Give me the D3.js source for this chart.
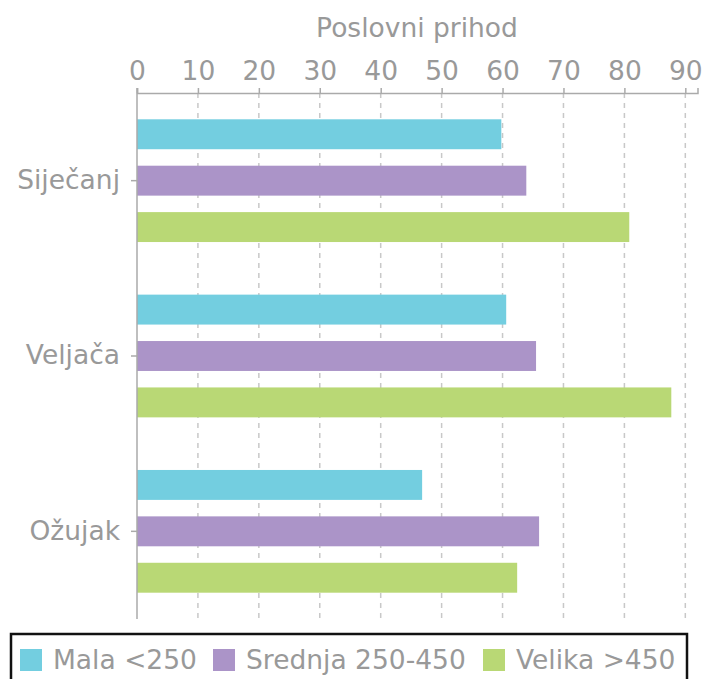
<!DOCTYPE html>
<html>
<head>
<meta charset="utf-8">
<script src="https://cdn.jsdelivr.net/npm/d3@7"></script>
<style>
    body { margin: 0; background: #fff; }
    text { font-family: "DejaVu Sans", sans-serif; fill: #999; }
</style>
</head>
<body>
<div id="chart"></div>
<script>
(function() {
    // data
    var months = ["Siječanj", "Veljača", "Ožujak"];
    var seriesNames = ["Mala <250", "Srednja 250-450", "Velika >450"];
    var mala = [59.8, 60.6, 46.8];
    var srednja = [63.9, 65.5, 66.0];
    var velika = [80.8, 87.7, 62.4];
    var xTicks = [0, 10, 20, 30, 40, 50, 60, 70, 80, 90];
    var colors = ["#73cee0", "#ab94c8", "#b9d875"];

    var values = [mala, srednja, velika];
    var fontSize = "26.5px";

    var margin = { top: 93, left: 137, right: 4, bottom: 60 };

    var svg = d3.select("#chart")
        .append("svg")
        .attr("width", 702)
        .attr("height", 679);

    var g = svg.append("g")
        .attr("transform", "translate(" + margin.left + "," + margin.top + ")");

    var xPositionScale = d3.scaleLinear()
        .domain([0, 92])
        .range([0, 560.5]);

    var yPositionScale = d3.scaleBand()
        .domain(months)
        .range([0, 526])
        .paddingInner(0.3)
        .paddingOuter(0.15);

    var ySeriesScale = d3.scaleBand()
        .domain(seriesNames)
        .range([0, yPositionScale.bandwidth()])
        .paddingInner(0.355)
        .paddingOuter(0);

    var colorScale = d3.scaleOrdinal().domain(seriesNames).range(colors);

    // dashed gridlines
    g.selectAll(".grid-line")
        .data(xTicks.slice(1))
        .enter().append("line")
        .attr("class", "grid-line")
        .attr("x1", function(d) { return xPositionScale(d); })
        .attr("x2", function(d) { return xPositionScale(d); })
        .attr("y1", 0)
        .attr("y2", 526)
        .attr("stroke", "#c8c8c8")
        .attr("stroke-width", 1.5)
        .attr("stroke-dasharray", "5,5");

    // bars
    var rows = [];
    months.forEach(function(m, i) {
        seriesNames.forEach(function(s, j) {
            rows.push({ month: m, series: s, value: values[j][i] });
        });
    });

    g.selectAll(".bar")
        .data(rows)
        .enter().append("rect")
        .attr("class", "bar")
        .attr("x", 0)
        .attr("y", function(d) {
            return yPositionScale(d.month) + ySeriesScale(d.series);
        })
        .attr("height", ySeriesScale.bandwidth())
        .attr("width", function(d) { return xPositionScale(d.value); })
        .attr("fill", function(d) { return colorScale(d.series); });

    // top axis
    var xAxis = d3.axisTop(xPositionScale)
        .tickValues(xTicks)
        .tickSize(5)
        .tickPadding(8);

    var xg = g.append("g")
        .attr("class", "x-axis")
        .call(xAxis);
    xg.select(".domain").attr("stroke", "#aaa").attr("stroke-width", 1.5);
    xg.selectAll(".tick line").attr("stroke", "#aaa").attr("stroke-width", 1.5);
    xg.selectAll("text").attr("fill", "#999").style("font-size", fontSize);

    // left axis
    var yAxis = d3.axisLeft(yPositionScale)
        .tickSize(6)
        .tickSizeOuter(0)
        .tickPadding(11);

    var yg = g.append("g")
        .attr("class", "y-axis")
        .call(yAxis);
    yg.select(".domain").attr("stroke", "#aaa").attr("stroke-width", 1.5)
        .attr("d", "M0,-5V526");
    yg.selectAll(".tick line").attr("stroke", "#aaa").attr("stroke-width", 1.5);
    yg.selectAll("text").attr("fill", "#999").style("font-size", fontSize);

    // axis title
    svg.append("text")
        .attr("x", 417)
        .attr("y", 37)
        .attr("text-anchor", "middle")
        .style("font-size", fontSize)
        .text("Poslovni prihod");

    // legend
    var legend = svg.append("g").attr("class", "legend");
    legend.append("rect")
        .attr("x", 11)
        .attr("y", 634)
        .attr("width", 676)
        .attr("height", 60)
        .attr("fill", "#fff")
        .attr("stroke", "#111")
        .attr("stroke-width", 2.5);

    var legendX = [20, 213, 483];
    var items = legend.selectAll(".legend-item")
        .data(seriesNames)
        .enter().append("g")
        .attr("class", "legend-item")
        .attr("transform", function(d, i) { return "translate(" + legendX[i] + ",649)"; });

    items.append("rect")
        .attr("width", 22)
        .attr("height", 22)
        .attr("fill", function(d) { return colorScale(d); });

    items.append("text")
        .attr("x", 33)
        .attr("y", 20)
        .style("font-size", fontSize)
        .text(function(d) { return d; });
})();
</script>
</body>
</html>
